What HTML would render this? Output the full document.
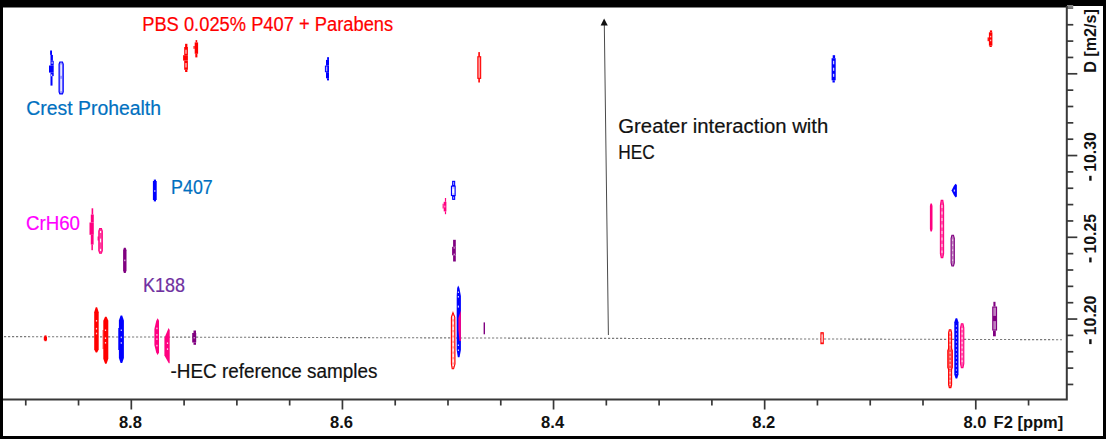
<!DOCTYPE html>
<html><head><meta charset="utf-8"><style>
html,body{margin:0;padding:0;background:#000;width:1106px;height:439px;overflow:hidden}
svg{position:absolute;left:0;top:0;display:block}
.ax{font-family:"Liberation Sans",sans-serif;font-weight:bold;font-size:16px;fill:#111}
.lb{font-family:"Liberation Sans",sans-serif;font-size:19.6px;stroke-width:0.2px;paint-order:stroke}
</style></head><body>
<svg width="1106" height="439" viewBox="0 0 1106 439">
<rect x="3" y="7.5" width="1100" height="428.5" fill="#fff"/>
<rect x="1066" y="6" width="37" height="2" fill="#fff"/>
<line x1="25.76" y1="399.5" x2="25.76" y2="405.5" stroke="#383838" stroke-width="1.7"/>
<line x1="78.54" y1="399.5" x2="78.54" y2="405.5" stroke="#383838" stroke-width="1.7"/>
<line x1="131.32" y1="399.5" x2="131.32" y2="409.5" stroke="#383838" stroke-width="1.7"/>
<line x1="184.10" y1="399.5" x2="184.10" y2="405.5" stroke="#383838" stroke-width="1.7"/>
<line x1="236.88" y1="399.5" x2="236.88" y2="405.5" stroke="#383838" stroke-width="1.7"/>
<line x1="289.66" y1="399.5" x2="289.66" y2="405.5" stroke="#383838" stroke-width="1.7"/>
<line x1="342.44" y1="399.5" x2="342.44" y2="409.5" stroke="#383838" stroke-width="1.7"/>
<line x1="395.21" y1="399.5" x2="395.21" y2="405.5" stroke="#383838" stroke-width="1.7"/>
<line x1="447.99" y1="399.5" x2="447.99" y2="405.5" stroke="#383838" stroke-width="1.7"/>
<line x1="500.77" y1="399.5" x2="500.77" y2="405.5" stroke="#383838" stroke-width="1.7"/>
<line x1="553.55" y1="399.5" x2="553.55" y2="409.5" stroke="#383838" stroke-width="1.7"/>
<line x1="606.33" y1="399.5" x2="606.33" y2="405.5" stroke="#383838" stroke-width="1.7"/>
<line x1="659.11" y1="399.5" x2="659.11" y2="405.5" stroke="#383838" stroke-width="1.7"/>
<line x1="711.89" y1="399.5" x2="711.89" y2="405.5" stroke="#383838" stroke-width="1.7"/>
<line x1="764.66" y1="399.5" x2="764.66" y2="409.5" stroke="#383838" stroke-width="1.7"/>
<line x1="817.44" y1="399.5" x2="817.44" y2="405.5" stroke="#383838" stroke-width="1.7"/>
<line x1="870.22" y1="399.5" x2="870.22" y2="405.5" stroke="#383838" stroke-width="1.7"/>
<line x1="923.00" y1="399.5" x2="923.00" y2="405.5" stroke="#383838" stroke-width="1.7"/>
<line x1="975.78" y1="399.5" x2="975.78" y2="409.5" stroke="#383838" stroke-width="1.7"/>
<line x1="1028.56" y1="399.5" x2="1028.56" y2="405.5" stroke="#383838" stroke-width="1.7"/>
<rect x="1067" y="5" width="6.2" height="2.8" fill="#858585"/>
<line x1="1066.8" y1="8.2" x2="1073.2" y2="8.2" stroke="#333" stroke-width="1"/>
<line x1="1066.8" y1="24.75" x2="1073.3" y2="24.75" stroke="#383838" stroke-width="1.7"/>
<line x1="1066.8" y1="41.10" x2="1073.3" y2="41.10" stroke="#383838" stroke-width="1.7"/>
<line x1="1066.8" y1="57.45" x2="1073.3" y2="57.45" stroke="#383838" stroke-width="1.7"/>
<line x1="1066.8" y1="73.80" x2="1077.3" y2="73.80" stroke="#383838" stroke-width="1.7"/>
<line x1="1066.8" y1="90.15" x2="1073.3" y2="90.15" stroke="#383838" stroke-width="1.7"/>
<line x1="1066.8" y1="106.50" x2="1073.3" y2="106.50" stroke="#383838" stroke-width="1.7"/>
<line x1="1066.8" y1="122.85" x2="1073.3" y2="122.85" stroke="#383838" stroke-width="1.7"/>
<line x1="1066.8" y1="139.20" x2="1073.3" y2="139.20" stroke="#383838" stroke-width="1.7"/>
<line x1="1066.8" y1="155.55" x2="1077.3" y2="155.55" stroke="#383838" stroke-width="1.7"/>
<line x1="1066.8" y1="171.90" x2="1073.3" y2="171.90" stroke="#383838" stroke-width="1.7"/>
<line x1="1066.8" y1="188.25" x2="1073.3" y2="188.25" stroke="#383838" stroke-width="1.7"/>
<line x1="1066.8" y1="204.60" x2="1073.3" y2="204.60" stroke="#383838" stroke-width="1.7"/>
<line x1="1066.8" y1="220.95" x2="1073.3" y2="220.95" stroke="#383838" stroke-width="1.7"/>
<line x1="1066.8" y1="237.30" x2="1077.3" y2="237.30" stroke="#383838" stroke-width="1.7"/>
<line x1="1066.8" y1="253.65" x2="1073.3" y2="253.65" stroke="#383838" stroke-width="1.7"/>
<line x1="1066.8" y1="270.00" x2="1073.3" y2="270.00" stroke="#383838" stroke-width="1.7"/>
<line x1="1066.8" y1="286.35" x2="1073.3" y2="286.35" stroke="#383838" stroke-width="1.7"/>
<line x1="1066.8" y1="302.70" x2="1073.3" y2="302.70" stroke="#383838" stroke-width="1.7"/>
<line x1="1066.8" y1="319.05" x2="1077.3" y2="319.05" stroke="#383838" stroke-width="1.7"/>
<line x1="1066.8" y1="335.40" x2="1073.3" y2="335.40" stroke="#383838" stroke-width="1.7"/>
<line x1="1066.8" y1="351.75" x2="1073.3" y2="351.75" stroke="#383838" stroke-width="1.7"/>
<line x1="1066.8" y1="368.10" x2="1073.3" y2="368.10" stroke="#383838" stroke-width="1.7"/>
<line x1="1066.8" y1="384.45" x2="1073.3" y2="384.45" stroke="#383838" stroke-width="1.7"/>
<polyline points="3,399.5 1066.8,399.5 1066.8,6" fill="none" stroke="#383838" stroke-width="2"/>
<text x="130.4" y="427.8" text-anchor="middle" class="ax" textLength="23" lengthAdjust="spacingAndGlyphs">8.8</text>
<text x="341.5" y="427.8" text-anchor="middle" class="ax" textLength="23" lengthAdjust="spacingAndGlyphs">8.6</text>
<text x="552.6" y="427.8" text-anchor="middle" class="ax" textLength="23" lengthAdjust="spacingAndGlyphs">8.4</text>
<text x="763.8" y="427.8" text-anchor="middle" class="ax" textLength="23" lengthAdjust="spacingAndGlyphs">8.2</text>
<text x="974.9" y="427.8" text-anchor="middle" class="ax" textLength="23" lengthAdjust="spacingAndGlyphs">8.0</text>
<text x="993.6" y="427.8" class="ax" textLength="69.6" lengthAdjust="spacingAndGlyphs">F2 [ppm]</text>
<text transform="translate(1095.5,171.8) rotate(-90)" x="0" y="0" class="ax" textLength="39.6" lengthAdjust="spacingAndGlyphs">10.30</text>
<rect x="1089.2" y="175.8" width="2.4" height="4.9" fill="#111"/>
<text transform="translate(1095.5,253.5) rotate(-90)" x="0" y="0" class="ax" textLength="39.6" lengthAdjust="spacingAndGlyphs">10.25</text>
<rect x="1089.2" y="257.5" width="2.4" height="4.9" fill="#111"/>
<text transform="translate(1095.5,335.2) rotate(-90)" x="0" y="0" class="ax" textLength="39.6" lengthAdjust="spacingAndGlyphs">10.20</text>
<rect x="1089.2" y="339.2" width="2.4" height="4.9" fill="#111"/>
<text transform="translate(1095.5,41.0) rotate(-90)" x="0" y="0" text-anchor="middle" class="ax" textLength="63.6" lengthAdjust="spacingAndGlyphs">D [m2/s]</text>
<line x1="3" y1="336.6" x2="1062" y2="339.7" stroke="#7a7a7a" stroke-width="1.1" stroke-dasharray="2.2 1.8" stroke-dashoffset="-1"/>
<line x1="608.4" y1="335" x2="604.3" y2="24" stroke="#4a4a4a" stroke-width="1"/>
<polygon points="604.1,18.5 600.6,25.6 607.8,25.6" fill="#111"/>
<rect x="50.10" y="50.50" width="1.90" height="4.40" fill="#0000ff"/>
<rect x="50.50" y="54.90" width="2.40" height="5.90" fill="#0000ff"/>
<rect x="50.50" y="60.80" width="3.20" height="4.70" fill="#0000ff"/>
<rect x="49.00" y="65.50" width="4.70" height="7.10" fill="#0000ff"/>
<rect x="50.50" y="72.60" width="3.20" height="3.50" fill="#0000ff"/>
<rect x="50.50" y="76.10" width="2.00" height="9.50" fill="#0000ff"/>
<rect x="51.50" y="61.60" width="1.20" height="2.20" fill="#ccccff"/>
<rect x="51.00" y="74.40" width="1.20" height="1.70" fill="#ccccff"/>
<polygon points="59.85,62.00 62.45,62.00 63.20,64.00 63.20,91.90 62.45,93.90 59.85,93.90 59.10,91.90 59.10,64.00" fill="#9999ff" stroke="#0000ff" stroke-width="1.2"/>
<rect x="60.55" y="64.50" width="1.20" height="11.30" fill="#ffffff"/>
<rect x="60.55" y="78.80" width="1.20" height="12.40" fill="#ffffff"/>
<rect x="185.10" y="43.80" width="2.30" height="3.20" fill="#ff0000"/>
<rect x="184.20" y="47.00" width="3.70" height="8.20" fill="#ff0000"/>
<rect x="183.10" y="55.20" width="4.80" height="5.40" fill="#ff0000"/>
<rect x="184.20" y="60.60" width="3.70" height="9.20" fill="#ff0000"/>
<rect x="185.10" y="69.80" width="2.30" height="2.20" fill="#ff0000"/>
<rect x="185.30" y="49.70" width="1.40" height="4.10" fill="#ffb2b2"/>
<rect x="185.30" y="63.00" width="1.40" height="4.50" fill="#ffb2b2"/>
<rect x="195.60" y="40.10" width="1.60" height="2.30" fill="#ff0000"/>
<rect x="194.70" y="42.40" width="3.40" height="11.40" fill="#ff0000"/>
<rect x="193.50" y="46.00" width="1.20" height="2.80" fill="#ff0000"/>
<rect x="195.30" y="53.80" width="2.10" height="3.60" fill="#ff0000"/>
<rect x="327.10" y="57.20" width="1.90" height="2.70" fill="#0000ff"/>
<rect x="326.00" y="59.90" width="3.00" height="5.70" fill="#0000ff"/>
<rect x="324.90" y="65.60" width="4.10" height="6.60" fill="#0000ff"/>
<rect x="326.00" y="72.20" width="3.00" height="6.10" fill="#0000ff"/>
<rect x="327.00" y="78.30" width="2.00" height="2.10" fill="#0000ff"/>
<rect x="325.90" y="66.50" width="1.40" height="4.80" fill="#a5a5ff"/>
<rect x="478.30" y="52.10" width="1.60" height="4.50" fill="#ff0000"/>
<rect x="477.85" y="56.75" width="2.80" height="21.60" fill="#ff9999" stroke="#ff0000" stroke-width="1.1"/>
<rect x="478.30" y="78.50" width="1.60" height="4.00" fill="#ff0000"/>
<rect x="832.70" y="55.20" width="2.40" height="3.00" fill="#0000ff"/>
<rect x="831.60" y="58.20" width="4.10" height="22.10" fill="#0000ff"/>
<rect x="832.50" y="80.30" width="2.30" height="2.20" fill="#0000ff"/>
<rect x="832.95" y="60.80" width="1.30" height="3.50" fill="#ccccff"/>
<rect x="832.95" y="67.70" width="1.30" height="3.10" fill="#ccccff"/>
<rect x="832.95" y="73.80" width="1.30" height="3.00" fill="#ccccff"/>
<rect x="989.90" y="30.40" width="2.20" height="1.90" fill="#ff0000"/>
<rect x="988.90" y="32.30" width="3.50" height="13.40" fill="#ff0000"/>
<rect x="987.60" y="37.40" width="1.30" height="3.80" fill="#ff0000"/>
<rect x="989.50" y="45.70" width="2.30" height="1.30" fill="#ff0000"/>
<rect x="989.95" y="35.80" width="1.30" height="1.60" fill="#ffb2b2"/>
<rect x="989.95" y="39.60" width="1.30" height="1.60" fill="#ffb2b2"/>
<rect x="153.80" y="179.60" width="2.20" height="1.40" fill="#0000ff"/>
<rect x="152.90" y="181.00" width="3.80" height="19.00" fill="#0000ff"/>
<rect x="153.80" y="200.00" width="2.20" height="1.40" fill="#0000ff"/>
<rect x="154.25" y="190.00" width="1.10" height="2.00" fill="#b2b2ff"/>
<rect x="91.60" y="208.30" width="1.60" height="6.20" fill="#ff0080"/>
<rect x="90.80" y="214.50" width="3.00" height="8.00" fill="#ff0080"/>
<rect x="89.50" y="222.50" width="4.30" height="12.30" fill="#ff0080"/>
<rect x="90.80" y="234.80" width="2.80" height="9.80" fill="#ff0080"/>
<rect x="91.40" y="244.60" width="1.50" height="5.60" fill="#ff0080"/>
<polygon points="99.65,228.60 101.45,228.60 102.30,231.10 102.30,250.70 101.45,253.20 99.65,253.20 98.80,250.70 98.80,231.10" fill="#ff3f9f" stroke="#ff0080" stroke-width="1.1"/>
<rect x="97.60" y="236.50" width="1.30" height="4.00" fill="#ff0080"/>
<rect x="99.95" y="231.00" width="1.20" height="2.00" fill="#fff2f8"/>
<rect x="99.95" y="238.60" width="1.20" height="3.80" fill="#fff2f8"/>
<rect x="99.95" y="248.80" width="1.20" height="2.20" fill="#fff2f8"/>
<polygon points="123.90,247.70 125.70,247.70 126.50,250.20 126.50,270.50 125.70,273.00 123.90,273.00 123.10,270.50 123.10,250.20" fill="#800080"/>
<rect x="124.25" y="259.60" width="1.10" height="1.60" fill="#e5cce5"/>
<rect x="452.65" y="181.35" width="2.00" height="4.10" fill="#b2b2ff" stroke="#0000ff" stroke-width="1.1"/>
<rect x="451.45" y="186.15" width="3.70" height="9.40" fill="#ccccff" stroke="#0000ff" stroke-width="1.1"/>
<rect x="452.65" y="196.25" width="2.00" height="3.10" fill="#b2b2ff" stroke="#0000ff" stroke-width="1.1"/>
<rect x="452.50" y="188.80" width="1.60" height="4.40" fill="#ffffff"/>
<rect x="444.90" y="198.00" width="1.20" height="3.80" fill="#ff0080"/>
<rect x="443.70" y="201.80" width="2.70" height="9.60" fill="#ff0080"/>
<rect x="442.60" y="203.70" width="1.10" height="4.80" fill="#ff0080"/>
<rect x="444.90" y="211.40" width="1.20" height="2.80" fill="#ff0080"/>
<rect x="444.30" y="205.60" width="1.00" height="1.90" fill="#ffb2d8"/>
<rect x="453.10" y="239.80" width="2.70" height="7.00" fill="#800080"/>
<rect x="452.10" y="246.80" width="3.70" height="8.50" fill="#800080"/>
<rect x="453.10" y="255.30" width="2.70" height="6.20" fill="#800080"/>
<rect x="453.60" y="247.20" width="1.20" height="1.40" fill="#d8b2d8"/>
<rect x="453.60" y="253.60" width="1.20" height="1.40" fill="#d8b2d8"/>
<polygon points="955.6,183.8 956.9,185 956.9,196.5 955.6,197.6 953.8,195 951.6,190.5 953.8,186" fill="#0000ff"/>
<rect x="953.75" y="189.60" width="1.30" height="2.00" fill="#ccccff"/>
<polygon points="930.50,203.60 931.90,203.60 932.50,206.10 932.50,228.90 931.90,231.40 930.50,231.40 929.90,228.90 929.90,206.10" fill="#ff0080"/>
<polygon points="941.20,200.40 942.80,200.40 943.60,205.40 943.60,253.60 942.80,257.60 941.20,257.60 940.40,253.60 940.40,205.40" fill="#ff4ca6" stroke="#ff0080" stroke-width="1.1"/>
<line x1="942.00" y1="205.00" x2="942.00" y2="253.00" stroke="#ffe5f2" stroke-width="1.0" stroke-dasharray="3 3.5"/>
<polygon points="951.90,235.30 953.50,235.30 954.30,238.30 954.30,263.00 953.50,266.00 951.90,266.00 951.10,263.00 951.10,238.30" fill="#bf7fbf" stroke="#800080" stroke-width="1.1"/>
<line x1="952.70" y1="239.50" x2="952.70" y2="262.00" stroke="#ffffff" stroke-width="1.0" stroke-dasharray="1.2 3.8"/>
<rect x="44.50" y="335.40" width="2.00" height="5.80" fill="#ff0000"/>
<rect x="43.80" y="336.80" width="3.20" height="3.50" fill="#ff0000"/>
<polygon points="95.75,307.20 97.15,307.20 98.70,312.20 98.70,349.60 97.15,352.60 95.75,352.60 94.20,349.60 94.20,312.20" fill="#ff0000"/>
<rect x="95.90" y="320.00" width="1.20" height="1.60" fill="#ffcccc"/>
<rect x="95.90" y="327.90" width="1.20" height="1.60" fill="#ffcccc"/>
<rect x="95.90" y="332.70" width="1.20" height="1.60" fill="#ffcccc"/>
<polygon points="105.05,316.70 106.55,316.70 108.30,320.70 108.30,358.80 106.55,363.80 105.05,363.80 103.30,358.80 103.30,320.70" fill="#ff0000"/>
<rect x="102.70" y="330.00" width="0.80" height="19.00" fill="#ff0000"/>
<rect x="104.90" y="329.50" width="1.20" height="1.50" fill="#ffcccc"/>
<rect x="104.90" y="337.40" width="1.20" height="1.60" fill="#ffcccc"/>
<rect x="104.90" y="342.00" width="1.20" height="1.60" fill="#ffcccc"/>
<polygon points="120.60,315.60 122.20,315.60 123.90,320.60 123.90,358.00 122.20,363.00 120.60,363.00 118.90,358.00 118.90,320.60" fill="#0000ff"/>
<rect x="118.30" y="328.00" width="0.70" height="22.00" fill="#0000ff"/>
<rect x="120.70" y="329.50" width="1.20" height="1.50" fill="#ccccff"/>
<rect x="120.70" y="336.60" width="1.20" height="1.60" fill="#ccccff"/>
<rect x="120.70" y="342.20" width="1.20" height="1.60" fill="#ccccff"/>
<polygon points="157.6,318.2 159,320.5 159,352.5 157.6,354.9 156.2,352.5 154.4,345 154.4,329 156.2,321" fill="#ff0080"/>
<rect x="156.30" y="327.60" width="1.20" height="1.60" fill="#ffcce5"/>
<rect x="156.30" y="334.10" width="1.20" height="1.60" fill="#ffcce5"/>
<rect x="156.30" y="338.30" width="1.20" height="1.60" fill="#ffcce5"/>
<rect x="156.30" y="344.80" width="1.20" height="1.60" fill="#ffcce5"/>
<polygon points="168.6,328 169.7,330 169.7,363.2 168.8,363.2 164.4,355.5 164.4,338 " fill="#ff0080"/>
<rect x="166.90" y="342.40" width="1.20" height="1.60" fill="#ffcce5"/>
<rect x="166.90" y="348.30" width="1.20" height="1.60" fill="#ffcce5"/>
<rect x="193.50" y="330.50" width="2.50" height="2.50" fill="#800080"/>
<rect x="192.20" y="333.00" width="4.00" height="9.50" fill="#800080"/>
<rect x="193.50" y="342.50" width="2.50" height="2.30" fill="#800080"/>
<rect x="193.65" y="337.00" width="1.10" height="1.50" fill="#d8b2d8"/>
<polygon points="453,312.6 454.8,317 455,364 453.6,368.8 452.2,368.8 451.4,364 451.4,317" fill="#ffa5a5" stroke="#ff0000" stroke-width="1.1"/>
<line x1="453.20" y1="316.00" x2="453.20" y2="366.00" stroke="#ffffff" stroke-width="1.2" stroke-dasharray="3.2 2.2"/>
<polygon points="458.2,285.6 459.4,288 460.9,296 460.9,350 459.5,357.2 457.8,357.2 456.7,350 456.7,296 457.2,288" fill="#0000ff"/>
<polygon points="460.9,310.5 460.9,341 459.5,341 458.4,330 458.4,318" fill="#ff0080"/>
<rect x="457.80" y="291.50" width="1.20" height="1.50" fill="#ccccff"/>
<rect x="457.80" y="296.00" width="1.20" height="1.60" fill="#ccccff"/>
<rect x="457.80" y="305.60" width="1.20" height="2.00" fill="#ccccff"/>
<rect x="457.80" y="344.50" width="1.20" height="1.50" fill="#ccccff"/>
<rect x="457.80" y="349.50" width="1.20" height="1.50" fill="#ccccff"/>
<rect x="483.60" y="322.40" width="1.40" height="11.90" fill="#800080"/>
<rect x="820.95" y="332.75" width="2.30" height="10.90" fill="#ff7f7f" stroke="#ff0000" stroke-width="1.1"/>
<rect x="821.60" y="334.50" width="1.00" height="7.50" fill="#fff2f2"/>
<polygon points="949.30,329.70 950.90,329.70 951.60,332.70 951.60,384.60 950.90,387.60 949.30,387.60 948.60,384.60 948.60,332.70" fill="#ff7272" stroke="#ff0000" stroke-width="1.1"/>
<polygon points="948.55,348.60 951.55,348.60 952.30,350.60 952.30,367.50 951.55,369.50 948.55,369.50 947.80,367.50 947.80,350.60" fill="#ff4c4c" stroke="#ff0000" stroke-width="1.1"/>
<line x1="950.10" y1="332.00" x2="950.10" y2="385.00" stroke="#ffe5e5" stroke-width="1.0" stroke-dasharray="1.6 2.4"/>
<polygon points="955.60,318.30 957.20,318.30 958.50,322.30 958.50,374.60 957.20,378.60 955.60,378.60 954.30,374.60 954.30,322.30" fill="#0000ff"/>
<line x1="956.40" y1="325.00" x2="956.40" y2="374.00" stroke="#8c8cff" stroke-width="1.0" stroke-dasharray="2 2"/>
<polygon points="961.35,323.80 962.95,323.80 963.80,327.80 963.80,363.60 962.95,367.60 961.35,367.60 960.50,363.60 960.50,327.80" fill="#ff59ac" stroke="#ff0080" stroke-width="1.1"/>
<line x1="962.10" y1="328.00" x2="962.10" y2="363.00" stroke="#fff2f8" stroke-width="1.0" stroke-dasharray="2 2.6"/>
<rect x="993.40" y="301.80" width="2.10" height="4.70" fill="#800080"/>
<rect x="992.75" y="307.05" width="3.80" height="23.00" fill="#bf7fbf" stroke="#800080" stroke-width="1.1"/>
<rect x="993.00" y="330.60" width="2.80" height="5.70" fill="#800080"/>
<rect x="993.00" y="315.90" width="3.30" height="5.20" fill="#800080"/>
<text x="142.2" y="31" fill="#ff0000" stroke="#ff0000" class="lb" textLength="251.0" lengthAdjust="spacingAndGlyphs">PBS 0.025% P407 + Parabens</text>
<text x="26.3" y="115.3" fill="#0070c0" stroke="#0070c0" class="lb" textLength="134.7" lengthAdjust="spacingAndGlyphs">Crest Prohealth</text>
<text x="171.1" y="193.7" fill="#0070c0" stroke="#0070c0" class="lb" textLength="41.6" lengthAdjust="spacingAndGlyphs">P407</text>
<text x="25.9" y="229.6" fill="#ff00ff" stroke="#ff00ff" class="lb" textLength="54.1" lengthAdjust="spacingAndGlyphs">CrH60</text>
<text x="143" y="292" fill="#7030a0" stroke="#7030a0" class="lb" textLength="42.0" lengthAdjust="spacingAndGlyphs">K188</text>
<text x="170.5" y="378.0" fill="#111111" stroke="#111111" class="lb" textLength="207.0" lengthAdjust="spacingAndGlyphs">-HEC reference samples</text>
<text x="618.3" y="132.9" fill="#111111" stroke="#111111" class="lb" textLength="210.0" lengthAdjust="spacingAndGlyphs">Greater interaction with</text>
<text x="618.3" y="159.3" fill="#111111" stroke="#111111" class="lb" textLength="36.5" lengthAdjust="spacingAndGlyphs">HEC</text>
</svg>
</body></html>
